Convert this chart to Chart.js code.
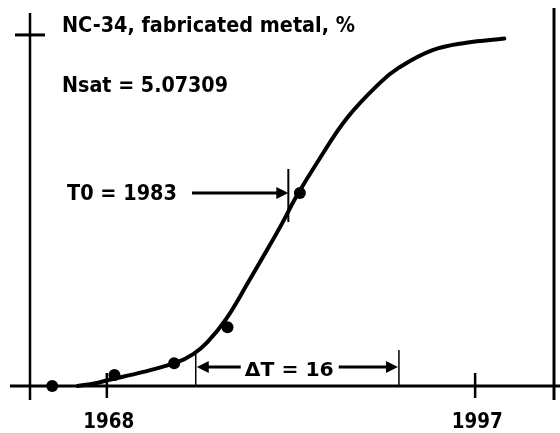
<!DOCTYPE html>
<html>
<head>
<meta charset="utf-8">
<script src="https://cdn.jsdelivr.net/npm/chart.js@4.4.1/dist/chart.umd.min.js"></script>
<style>
  html, body { margin: 0; padding: 0; background: #fff; }
  canvas { display: block; }
</style>
</head>
<body>
<canvas id="chart" width="560" height="433"></canvas>
<script>
// Fitted logistic curve for NC-34 (fabricated metal share, %)
const curveYears  = [1965.7, 1967.1, 1968.2, 1970.8, 1973.5, 1974.8, 1975.9, 1977.4, 1979.2, 1980.6, 1981.8, 1982.9, 1984.7, 1986.9, 1989.5, 1991.0, 1993.6, 1996.3, 1999.3];
const curveValues = [0, 0.04, 0.09, 0.20, 0.34, 0.46, 0.63, 0.97, 1.52, 1.96, 2.35, 2.73, 3.27, 3.87, 4.38, 4.60, 4.85, 4.96, 5.02];

// Observed points
const obsYears  = [1963.7, 1968.6, 1973.3, 1977.5, 1983.2];
const obsValues = [0, 0.16, 0.33, 0.85, 2.79];

// Fit parameters shown on the chart
const NSAT = 5.07309;
const T0 = 1983;
const DELTA_T = 16;

const tickYears = [1968, 1997];
const titleText = 'NC-34, fabricated metal, %';

const toXY = (xs, ys) => xs.map((x, i) => ({ x: x, y: ys[i] }));

const FONT = '"DejaVu Sans", "Liberation Sans", sans-serif';

// draw bold text squeezed to a given width
function fitText(ctx, text, x, y, size, width, align) {
  ctx.save();
  ctx.font = 'bold ' + size + 'px ' + FONT;
  const w = ctx.measureText(text).width;
  const k = width / w;
  let left = x;
  if (align === 'center') left = x - width / 2;
  ctx.translate(left, y);
  ctx.scale(k, 1);
  ctx.textAlign = 'left';
  ctx.textBaseline = 'alphabetic';
  ctx.fillText(text, 0, 0);
  ctx.restore();
}

function line(ctx, x1, y1, x2, y2, w) {
  ctx.lineWidth = w;
  ctx.beginPath();
  ctx.moveTo(x1, y1);
  ctx.lineTo(x2, y2);
  ctx.stroke();
}

// horizontal arrow, tip at (tipX, y), tail at tailX
function arrow(ctx, tailX, tipX, y) {
  const dir = tipX > tailX ? 1 : -1;
  line(ctx, tailX, y, tipX - dir * 8, y, 3);
  ctx.beginPath();
  ctx.moveTo(tipX, y);
  ctx.lineTo(tipX - dir * 12, y - 6);
  ctx.lineTo(tipX - dir * 12, y + 6);
  ctx.closePath();
  ctx.fill();
}

const decorations = {
  id: 'decorations',
  beforeDatasetsDraw(chart) {
    const ctx = chart.ctx;
    const xs = chart.scales.x;
    const ys = chart.scales.y;
    const x0 = xs.getPixelForValue(xs.min);
    const x1 = xs.getPixelForValue(xs.max);
    const yBase = ys.getPixelForValue(0);
    const yTop = ys.getPixelForValue(ys.max);
    ctx.save();
    ctx.strokeStyle = '#000';
    ctx.fillStyle = '#000';
    ctx.lineCap = 'butt';

    // frame: baseline, left axis, right edge
    line(ctx, 10, yBase, 560, yBase, 3);
    line(ctx, x0, yTop, x0, yBase + 14, 2.5);
    line(ctx, x1, yTop - 5, x1, yBase + 14, 3);

    // saturation tick on the left axis
    const ySat = ys.getPixelForValue(NSAT);
    line(ctx, x0 - 15, ySat, x0 + 15, ySat, 3);

    // year ticks and labels
    tickYears.forEach(yr => {
      const px = xs.getPixelForValue(yr);
      line(ctx, px, yBase - 13, px, yBase + 12, 2.5);
      fitText(ctx, String(yr), px + 2, yBase + 42, 22, 51, 'center');
    });

    // text block
    fitText(ctx, titleText, 62, 32, 22, 293);
    fitText(ctx, 'Nsat = ' + NSAT, 62, 92, 22, 166);

    // T0 marker pointing at the observed point
    const pT0 = xs.getPixelForValue(T0) - 9;
    const yT0 = 193;
    fitText(ctx, 'T0 = ' + T0, 67, 200, 22, 110);
    arrow(ctx, 192, pT0, yT0);
    line(ctx, pT0, yT0 - 24, pT0, yT0 + 29, 2);

    // delta-T bracket
    const pL = xs.getPixelForValue(T0 - DELTA_T / 2);
    const pR = xs.getPixelForValue(T0 + DELTA_T / 2);
    const yB = 367;
    line(ctx, pL, 353, pL, yBase, 1.5);
    line(ctx, pR, 350, pR, yBase, 1.5);
    arrow(ctx, pL + 45, pL + 1, yB);
    fitText(ctx, '\u0394T = ' + DELTA_T, pL + 49, 376, 20, 89);
    arrow(ctx, pL + 143, pR - 1, yB);

    ctx.restore();
  }
};

new Chart(document.getElementById('chart').getContext('2d'), {
  type: 'scatter',
  data: {
    datasets: [
      {
        label: 'fit',
        data: toXY(curveYears, curveValues),
        showLine: true,
        borderColor: '#000',
        borderWidth: 4,
        pointRadius: 0,
        tension: 0.4,
        borderCapStyle: 'round',
        clip: false
      },
      {
        label: 'observed',
        data: toXY(obsYears, obsValues),
        showLine: false,
        backgroundColor: '#000',
        borderColor: '#000',
        pointRadius: 6,
        pointBorderWidth: 0,
        clip: false
      }
    ]
  },
  options: {
    responsive: false,
    animation: false,
    layout: { padding: { left: 30, right: 5, top: 13, bottom: 47 } },
    plugins: {
      legend: { display: false },
      tooltip: { enabled: false },
      title: { display: false }
    },
    scales: {
      x: { type: 'linear', min: 1961.95, max: 2003.21, display: false },
      y: { type: 'linear', min: 0, max: 5.39, display: false }
    }
  },
  plugins: [decorations]
});
</script>
</body>
</html>
